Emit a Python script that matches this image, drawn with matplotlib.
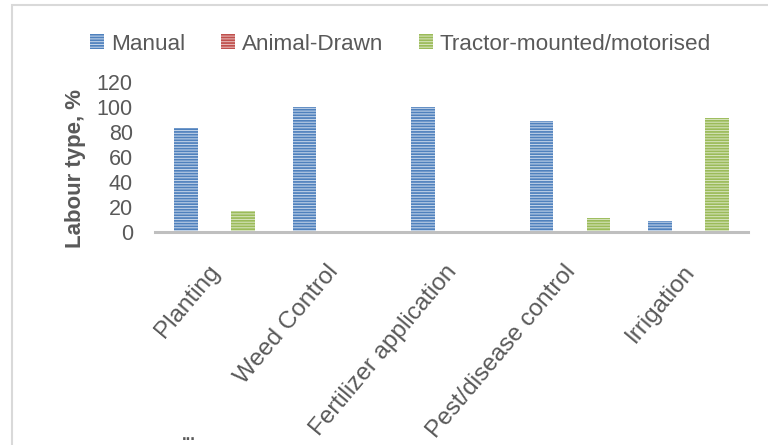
import matplotlib
matplotlib.use("Agg")
import matplotlib.pyplot as plt
import numpy as np
from matplotlib.patches import Rectangle

tasks = ["Planting", "Weed Control", "Fertilizer application",
         "Pest/disease control", "Irrigation"]
manual = [83, 100, 100, 89, 9]
animal = [0, 0, 0, 0, 0]
tractor = [17, 0, 0, 11, 91]

series = ["Manual", "Animal-Drawn", "Tractor-mounted/motorised"]
dark = ["#4f81bd", "#c0504d", "#9bbb59"]
light = ["#c5d5ea", "#e6b9b8", "#d7e4bd"]

plt.rcParams["font.family"] = ["Liberation Sans", "DejaVu Sans"]
plt.rcParams["hatch.linewidth"] = 1.25
txt = "#595959"

fig = plt.figure(figsize=(7.68, 4.45), dpi=100)
W, H = 768, 445
ax = fig.add_axes([155 / W, 1 - 232 / H, (748 - 155) / W, (232 - 82) / H])

x = np.arange(len(tasks))
off = 0.24
bw = 0.2
for i, vals in enumerate([manual, animal, tractor]):
    ax.bar(x + (i - 1) * off, vals, bw, facecolor=light[i], edgecolor=dark[i],
           linewidth=0, hatch="------", label=series[i])

ax.set_xlim(-0.5, len(tasks) - 0.5)
ax.set_ylim(0, 120)
ax.set_yticks(range(0, 121, 20))
ax.tick_params(axis="y", length=0, labelsize=15.5, labelcolor=txt, pad=16)
ax.tick_params(axis="x", length=0)
ax.set_xticks(x)
ax.set_xticklabels([])
# category names, turned and hung from the end
for xi, t in zip(x, tasks):
    ax.annotate(t, xy=(xi, 0), xycoords=("data", "axes fraction"),
                xytext=(2, -36), textcoords="offset pixels",
                rotation=50, rotation_mode="anchor", ha="right", va="center",
                fontsize=17.5, color=txt, annotation_clip=False)

for s in ["top", "right", "left"]:
    ax.spines[s].set_visible(False)
ax.spines["bottom"].set_color("#bfbfbf")
ax.spines["bottom"].set_linewidth(2.2)
ax.set_zorder(1)

fig.text(75 / W, 1 - 169 / H, "Labour type, %", rotation=90, ha="center",
         va="center", fontsize=16, fontweight="bold", color=txt)

leg = fig.legend(loc="center", bbox_to_anchor=(400.5 / W, 1 - 44 / H), ncol=3,
                 frameon=False, fontsize=16.2, handlelength=0.62,
                 handleheight=0.6, handletextpad=0.3, columnspacing=1.6,
                 borderpad=0, borderaxespad=0)
for t in leg.get_texts():
    t.set_color(txt)

fig.text(189 / W, 1 - 435 / H, "...", ha="center", va="center",
         fontsize=12, fontweight="bold", color=txt)

fig.patches.append(Rectangle((12 / W, -0.1), 1.2, 1.1 - 5 / H,
                             transform=fig.transFigure, fill=False,
                             edgecolor="#d9d9d9", linewidth=1.5))

fig.savefig("out.png", dpi=100, facecolor="white")
